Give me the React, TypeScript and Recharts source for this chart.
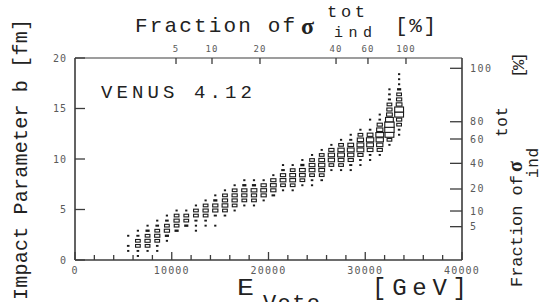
import { Scatter, ScatterChart, XAxis, YAxis } from "recharts";

// column centres of the E_veto bins (GeV)
const energyGeV = [
  5500, 6500, 7500, 8500, 9500, 10500, 11500, 12500, 13500, 14500, 15500,
  16500, 17500, 18500, 19500, 20500, 21500, 22500, 23500, 24500, 25500, 26500,
  27500, 28500, 29500, 30500, 31500, 32500, 33500,
];
// impact parameter of the lowest filled bin in each column (fm)
const lowestB = [
  0.9, 0.4, 0.9, 0.9, 1.9, 2.9, 3.4, 2.9, 3.4, 3.4, 4.4, 4.9, 5.4, 5.4, 5.9,
  6.4, 6.9, 6.9, 7.4, 7.4, 7.9, 8.9, 8.9, 8.9, 9.4, 9.9, 10.4, 11.4, 12.4,
];
// relative box size per bin, from lowest b upward (0 = empty bin)
const boxSizes = [
  [0.2, 0.25, 0, 0.2],
  [0.2, 0.25, 0.45, 0.45, 0.3, 0.2],
  [0.2, 0.45, 0.5, 0.45, 0.4, 0.2],
  [0.2, 0.25, 0.45, 0.5, 0.45, 0.35, 0.2],
  [0.2, 0.4, 0.5, 0.45, 0.35, 0.2],
  [0.4, 0.45, 0.5, 0.45, 0.2],
  [0.4, 0.45, 0.45, 0.2],
  [0.2, 0.2, 0.3, 0.45, 0.45, 0.2],
  [0.2, 0.25, 0.45, 0.5, 0.45, 0.2],
  [0.2, 0, 0.3, 0.5, 0.5, 0.4, 0.2],
  [0.25, 0.45, 0.55, 0.5, 0.45, 0.2],
  [0.2, 0.45, 0.5, 0.5, 0.45, 0.2],
  [0.2, 0.45, 0.5, 0.5, 0.4, 0.2],
  [0.2, 0.45, 0.5, 0.55, 0.4, 0.2],
  [0.2, 0.5, 0.55, 0.5, 0.2],
  [0.35, 0.5, 0.55, 0.5, 0.2],
  [0.2, 0.45, 0.55, 0.5, 0.35, 0.2],
  [0.2, 0.45, 0.55, 0.55, 0.45, 0.2],
  [0.2, 0.45, 0.55, 0.55, 0.4, 0.2],
  [0.2, 0.25, 0.45, 0.55, 0.55, 0.45, 0.2],
  [0.25, 0.45, 0.55, 0.6, 0.55, 0.45, 0.2],
  [0.2, 0.45, 0.6, 0.6, 0.5, 0.2],
  [0.2, 0.45, 0.55, 0.65, 0.6, 0.45, 0.2],
  [0.2, 0.3, 0.5, 0.6, 0.65, 0.55, 0.3, 0.2],
  [0.2, 0.25, 0.5, 0.65, 0.65, 0.6, 0.45, 0.2],
  [0.2, 0.25, 0.55, 0.65, 0.7, 0.55, 0.25, 0, 0.2],
  [0.2, 0.5, 0.6, 0.7, 0.75, 0.6, 0.5, 0.25, 0.2],
  [0.2, 0.45, 0.85, 0.9, 0.9, 0.75, 0.55, 0.5, 0.45, 0.3, 0.25, 0.2],
  [0.2, 0.25, 0.45, 0.5, 0.85, 0.85, 0.55, 0.5, 0.45, 0.4, 0.2, 0.2, 0.2],
];
const B_STEP = 0.5;

const bottomTicks = [
  0, 2000, 4000, 6000, 8000, 10000, 12000, 14000, 16000, 18000, 20000, 22000,
  24000, 26000, 28000, 30000, 32000, 34000, 36000, 38000, 40000,
];
const leftTicks = [0, 5, 10, 15, 20];
const topTickEnergy = [10440, 14160, 19120, 26980, 30280, 34210];
const topTickLabels = ["5", "10", "20", "40", "60", "100"];
const rightTickB = [3.3, 4.85, 7.03, 9.57, 11.98, 13.69, 18.98];
const rightTickLabels = ["5", "10", "20", "40", "60", "80", "100"];

const points = energyGeV.flatMap((e, i) =>
  boxSizes[i]
    .map((s, j) => ({ e, b: lowestB[i] + B_STEP * j, s }))
    .filter((p) => p.s > 0)
);

const MONO = "'Liberation Mono', 'DejaVu Sans Mono', monospace";
const TICKFONT = "'DejaVu Sans Mono', monospace";
const AXIS = "#3c3c3c";
const LABEL = "#5a5a5a";
const INK = "#1a1a1a";
const CELL_W = 10.4;
const CELL_H = 5.9;

const BoxMark = (props: any) => {
  const { cx, cy, payload } = props;
  const w = Math.max(2.2, payload.s * CELL_W);
  const h = Math.max(1.9, payload.s * CELL_H);
  if (w < 4.4) {
    return <rect x={cx - w / 2} y={cy - h / 2} width={w} height={h} fill={INK} />;
  }
  return (
    <rect
      x={cx - w / 2}
      y={cy - h / 2}
      width={w}
      height={h}
      fill="#fff"
      stroke={INK}
      strokeWidth={1.1}
    />
  );
};

const NoMark = () => <g />;

const BottomTick = ({ x, y, payload }: any) => {
  const major = payload.value % 10000 === 0;
  return (
    <g>
      <line x1={x} y1={y} x2={x} y2={y - (major ? 8 : 5)} stroke={AXIS} strokeWidth={1.3} />
      {major && (
        <text x={x} y={y + 14} textAnchor="middle" fontFamily={TICKFONT} fontSize={10} letterSpacing={1.2} fill={LABEL}>
          {payload.value}
        </text>
      )}
    </g>
  );
};

const TopTick = ({ x, y, payload }: any) => (
  <g>
    <line x1={x} y1={y} x2={x} y2={y + 6} stroke={AXIS} strokeWidth={1.3} />
    <text x={x} y={y - 6} textAnchor="middle" fontFamily={TICKFONT} fontSize={9} letterSpacing={1} fill={LABEL}>
      {topTickLabels[topTickEnergy.indexOf(payload.value)]}
    </text>
  </g>
);

const LeftTick = ({ x, y, payload }: any) => (
  <g>
    <line x1={x} y1={y} x2={x + 10} y2={y} stroke={AXIS} strokeWidth={1.3} />
    <text x={x - 8} y={y + 3.5} textAnchor="end" fontFamily={TICKFONT} fontSize={10} letterSpacing={1} fill={LABEL}>
      {payload.value}
    </text>
  </g>
);

const RightTick = ({ x, y, payload }: any) => (
  <g>
    <line x1={x} y1={y} x2={x - 12} y2={y} stroke={AXIS} strokeWidth={1.3} />
    <text x={x + 8} y={y + 3.5} textAnchor="start" fontFamily={TICKFONT} fontSize={10} letterSpacing={1.5} fill={LABEL}>
      {rightTickLabels[rightTickB.indexOf(payload.value)]}
    </text>
  </g>
);

const Titles = () => (
  <g fill="#222" fontFamily={MONO}>
    {/* top title */}
    <text x={135} y={32} fontSize={21} textLength={160} lengthAdjust="spacing">Fraction of</text>
    <text x={301} y={34} fontSize={24} fontWeight="bold" fontFamily="'Liberation Serif', serif">σ</text>
    <text x={327} y={17} fontSize={17} textLength={38} lengthAdjust="spacing">tot</text>
    <text x={334} y={37} fontSize={15} textLength={38} lengthAdjust="spacing">ind</text>
    <text x={395} y={32} fontSize={21} textLength={41} lengthAdjust="spacing">[%]</text>

    {/* left title */}
    <text transform="rotate(-90)" x={-300} y={27} fontSize={20} textLength={281} lengthAdjust="spacing">
      Impact Parameter b [fm]
    </text>

    {/* right title */}
    <g transform="rotate(-90)">
      <text x={-287} y={522} fontSize={17} textLength={112} lengthAdjust="spacing">Fraction of</text>
      <text x={-172} y={522} fontSize={20} fontWeight="bold" fontFamily="'Liberation Serif', serif">σ</text>
      <text x={-137} y={507} fontSize={16} textLength={30} lengthAdjust="spacing">tot</text>
      <text x={-178} y={538} fontSize={16} textLength={30} lengthAdjust="spacing">ind</text>
      <text x={-78} y={524} fontSize={17} textLength={26} lengthAdjust="spacing">[%]</text>
    </g>

    {/* bottom title */}
    <text x={237} y={295} fontSize={23} textLength={17} lengthAdjust="spacingAndGlyphs">E</text>
    <text x={263} y={310} fontSize={22} textLength={57} lengthAdjust="spacing">Veto</text>
    <text x={372} y={295} fontSize={24} textLength={95} lengthAdjust="spacing">[GeV]</text>

    {/* generator label */}
    <text x={101} y={98} fontSize={19} textLength={151} lengthAdjust="spacing">VENUS 4.12</text>
  </g>
);

export default function App() {
  return (
    <div style={{ position: "absolute", left: 0, top: 0, background: "#fff" }}>
      <ScatterChart
        width={542}
        height={302}
        margin={{ top: 38, right: 40, bottom: 22, left: 45 }}
      >
        <XAxis
          xAxisId="bottom"
          type="number"
          dataKey="e"
          domain={[0, 40000]}
          ticks={bottomTicks}
          interval={0}
          height={20}
          tickSize={0}
          tickMargin={0}
          axisLine={{ stroke: AXIS, strokeWidth: 1.6 }}
          tickLine={false}
          tick={(p: any) => <BottomTick {...p} />}
        />
        <XAxis
          xAxisId="top"
          orientation="top"
          type="number"
          dataKey="e"
          domain={[0, 40000]}
          ticks={topTickEnergy}
          interval={0}
          height={20}
          tickSize={0}
          tickMargin={0}
          axisLine={{ stroke: AXIS, strokeWidth: 1.2 }}
          tickLine={false}
          tick={(p: any) => <TopTick {...p} />}
        />
        <YAxis
          yAxisId="left"
          type="number"
          dataKey="b"
          domain={[0, 20]}
          ticks={leftTicks}
          interval={0}
          width={30}
          tickSize={0}
          tickMargin={0}
          axisLine={{ stroke: AXIS, strokeWidth: 1.6 }}
          tickLine={false}
          tick={(p: any) => <LeftTick {...p} />}
        />
        <YAxis
          yAxisId="right"
          orientation="right"
          type="number"
          dataKey="b"
          domain={[0, 20]}
          ticks={rightTickB}
          interval={0}
          width={40}
          tickSize={0}
          tickMargin={0}
          axisLine={{ stroke: AXIS, strokeWidth: 1.6 }}
          tickLine={false}
          tick={(p: any) => <RightTick {...p} />}
        />
        <Scatter
          data={points}
          xAxisId="bottom"
          yAxisId="left"
          isAnimationActive={false}
          shape={(p: any) => <BoxMark {...p} />}
        />
        {/* same bins on the secondary axes, drawn invisibly so those axes get ticks */}
        <Scatter
          data={points}
          xAxisId="top"
          yAxisId="right"
          isAnimationActive={false}
          shape={() => <NoMark />}
        />
        <Titles />
      </ScatterChart>
    </div>
  );
}
